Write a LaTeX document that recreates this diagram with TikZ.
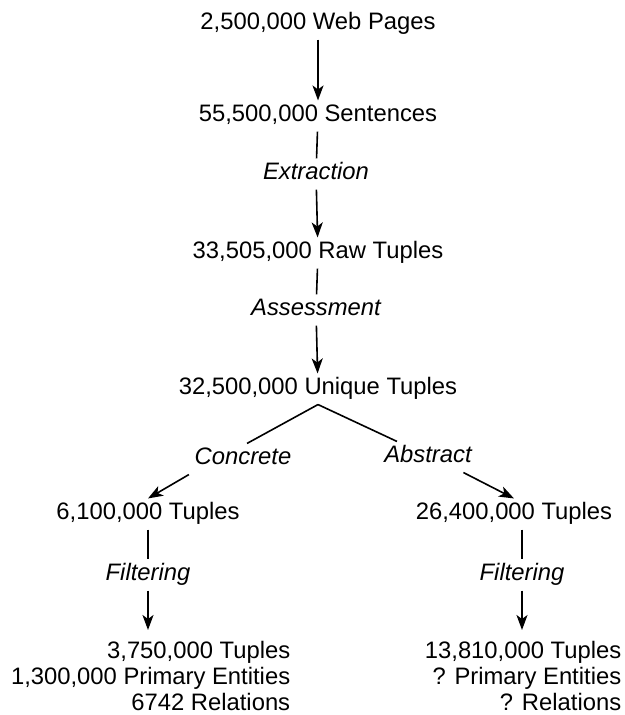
\documentclass[tikz,border=0pt]{standalone}
\usepackage{fontspec}
\setmainfont{Liberation Sans}
\usetikzlibrary{arrows.meta}

\begin{document}
\begin{tikzpicture}[
    x=1pt, y=-1pt,
    line width=1.6pt,
    font=\fontsize{23.8}{26}\selectfont,
    count/.style={inner sep=3pt, text height=17.5pt, text depth=6pt},
    step label/.style={count, font=\fontsize{23.8}{26}\selectfont\itshape},
    result/.style={align=right, inner xsep=0pt, inner ysep=10pt, anchor=north east},
    flow/.style={-{Stealth[length=15pt, width=11pt, inset=4pt]}}]
    \useasboundingbox (0,0) rectangle (624,715);
    % NODES
    % main chain
    \node[count] (pages) at (318,24) {2,500,000 Web Pages};
    \node[count] (sent) at (318,116) {55,500,000 Sentences};
    \node[step label] (extr) at (316,174) {Extraction};
    \node[count] (raw) at (318,253) {33,505,000 Raw Tuples};
    \node[step label] (assess) at (316,310) {Assessment};
    \node[count] (uniq) at (318,389) {32,500,000 Unique Tuples};
    % split
    \node[step label] (conc) at (243,459) {Concrete};
    \node[step label] (abst) at (428,457) {Abstract};
    % left branch
    \node[count] (six) at (148,514) {6,100,000 Tuples};
    \node[step label] (filtl) at (148,575) {Filtering};
    \node[result] (resl) at (291,630) {3,750,000 Tuples\\1,300,000 Primary Entities\\6742 Relations};
    % right branch
    \node[count] (twsix) at (514,514) {26,400,000 Tuples};
    \node[step label] (filtr) at (522,575) {Filtering};
    \node[result] (resr) at (622,630) {13,810,000 Tuples\\? Primary Entities\\? Relations};

    % ARROWS
    \draw[flow] (pages) -- (sent);
    \draw (sent) -- (extr);
    \draw[flow] (extr) -- (raw);
    \draw (raw) -- (assess);
    \draw[flow] (assess) -- (uniq);
    \draw (uniq.south) -- ([xshift=4pt]conc.north);
    \draw (uniq.south) -- ([xshift=-31pt]abst.north);
    \draw[flow] ([xshift=-2pt]conc.south west) -- (six.north);
    \draw[flow] ([xshift=-12pt]abst.south east) -- (twsix.north);
    \draw (six) -- (filtl);
    \draw[flow] (filtl) -- (filtl |- resl.north);
    \draw (filtr |- twsix.south) -- (filtr);
    \draw[flow] (filtr) -- (filtr |- resr.north);
\end{tikzpicture}
\end{document}
